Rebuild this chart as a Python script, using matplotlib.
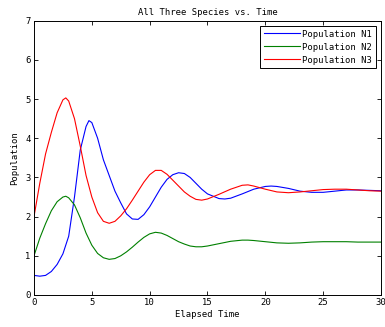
import numpy as np
import matplotlib.pyplot as plt

# values
t1 = [0, 0.5, 1, 1.5, 2, 2.5, 3, 3.5, 4, 4.5, 4.75, 5, 5.5, 6, 6.5, 7, 7.5, 8, 8.5, 9,
      9.5, 10, 10.5, 11, 11.5, 12, 12.5, 13, 13.5, 14, 14.5, 15, 16, 16.5, 17, 18, 19,
      20, 20.5, 21, 22, 23, 24, 25, 26, 27, 28, 29, 30]
n1 = [0.5, 0.48, 0.5, 0.6, 0.78, 1.05, 1.5, 2.5, 3.7, 4.3, 4.45, 4.4, 4.0, 3.45, 3.05,
      2.65, 2.35, 2.07, 1.94, 1.93, 2.05, 2.25, 2.5, 2.75, 2.95, 3.07, 3.12, 3.1, 3.0,
      2.85, 2.7, 2.58, 2.46, 2.45, 2.47, 2.58, 2.7, 2.77, 2.78, 2.77, 2.72, 2.65, 2.62,
      2.62, 2.65, 2.68, 2.68, 2.67, 2.66]

t23 = [0, 0.5, 1, 1.5, 2, 2.5, 2.75, 3, 3.5, 4, 4.5, 5, 5.5, 6, 6.5, 7, 7.5, 8, 8.5, 9,
       9.5, 10, 10.5, 11, 11.5, 12, 12.5, 13, 13.5, 14, 14.5, 15, 16, 17, 18, 18.5, 19,
       20, 21, 22, 23, 24, 25, 26, 27, 28, 29, 30]
n2 = [1.0, 1.45, 1.82, 2.15, 2.38, 2.5, 2.52, 2.48, 2.3, 1.97, 1.58, 1.27, 1.06, 0.95,
      0.91, 0.93, 1.0, 1.1, 1.22, 1.35, 1.47, 1.56, 1.6, 1.58, 1.52, 1.44, 1.36, 1.3,
      1.25, 1.23, 1.23, 1.25, 1.31, 1.37, 1.4, 1.4, 1.39, 1.36, 1.33, 1.32, 1.33, 1.35,
      1.36, 1.36, 1.36, 1.35, 1.35, 1.35]
n3 = [2.0, 2.85, 3.6, 4.15, 4.65, 4.98, 5.03, 4.95, 4.5, 3.8, 3.05, 2.5, 2.1, 1.88,
      1.83, 1.88, 2.02, 2.2, 2.42, 2.65, 2.88, 3.07, 3.18, 3.18, 3.08, 2.93, 2.78, 2.63,
      2.52, 2.44, 2.42, 2.45, 2.57, 2.7, 2.8, 2.81, 2.78, 2.7, 2.63, 2.61, 2.63, 2.66,
      2.69, 2.7, 2.7, 2.68, 2.66, 2.65]

plt.rcParams['font.family'] = 'DejaVu Sans Mono'
plt.rcParams['font.size'] = 6.4

fig = plt.figure(figsize=(3.85, 3.27), dpi=100)
ax = fig.add_axes([0.0883, 0.0979, 0.9013, 0.8388])
ax.plot(t1, n1, color=(0, 0, 1), lw=0.8, label='Population N1')
ax.plot(t23, n2, color=(0, 0.5, 0), lw=0.8, label='Population N2')
ax.plot(t23, n3, color=(1, 0, 0), lw=0.8, label='Population N3')

ax.set_xlim(0, 30)
ax.set_ylim(0, 7)
ax.set_xticks(np.arange(0, 31, 5))
ax.set_yticks(np.arange(0, 8, 1))
ax.tick_params(direction='in', top=True, right=True, length=3, width=0.6, pad=2.5)
for s in ax.spines.values():
    s.set_linewidth(0.7)
ax.set_title('All Three Species vs. Time', fontsize=6.4, pad=4)
ax.set_xlabel('Elapsed Time', labelpad=2)
ax.set_ylabel('Population', labelpad=4)

leg = ax.legend(loc='upper right', fancybox=False, framealpha=1, edgecolor='black',
                handlelength=4.0, handletextpad=0.3, borderpad=0.4, labelspacing=0.45,
                borderaxespad=0.6, fontsize=6.4)
leg.get_frame().set_linewidth(0.7)

fig.savefig('out.png', dpi=100)
